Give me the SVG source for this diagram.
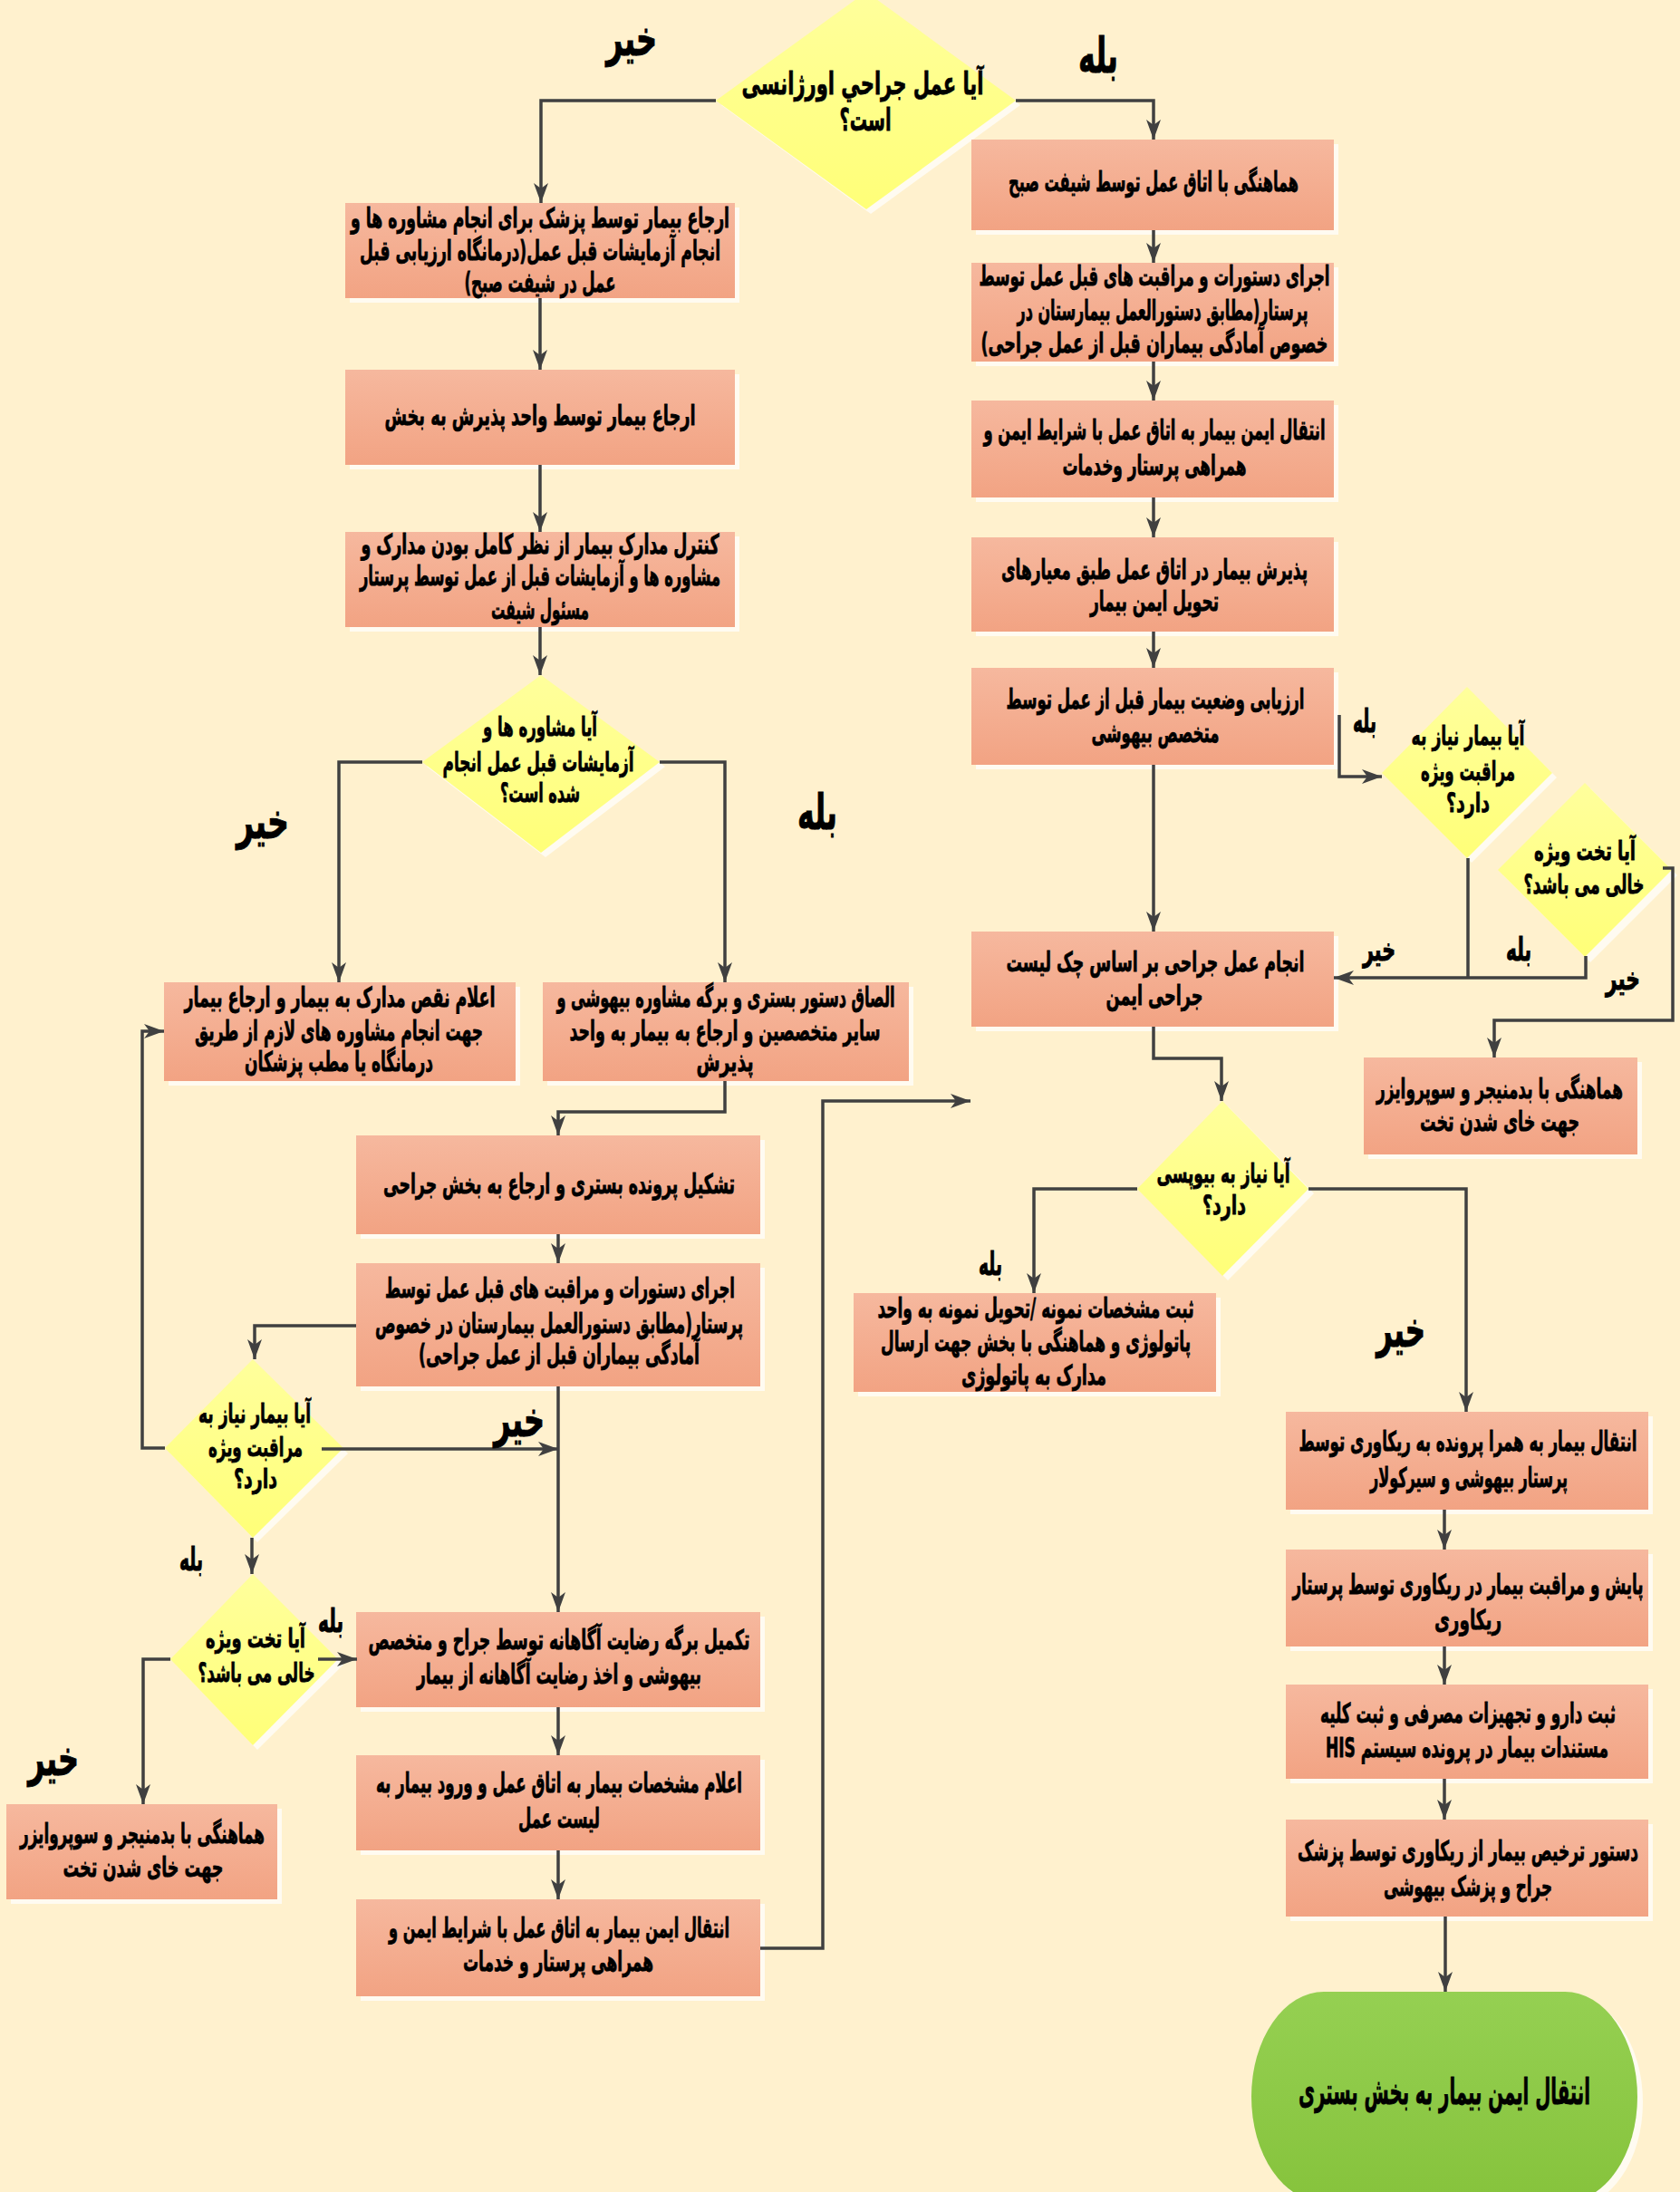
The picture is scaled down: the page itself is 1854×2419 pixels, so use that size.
<svg xmlns="http://www.w3.org/2000/svg" width="1854" height="2419" viewBox="0 0 1854 2419">
<style>
  .bg { fill: #FFF1CE; }
  .sh { fill: #FFFBF1; }
  .box { fill: url(#gBox); }
  .dia { fill: url(#gDia); }
  .term { fill: url(#gTerm); }
  .t { font-family: "DejaVu Sans", sans-serif; font-weight: bold; font-size: 30px; fill: #000; stroke: #000; stroke-width: 0.8px; text-anchor: middle; direction: rtl; }
  .q { font-size: 29px; }
  .big { font-size: 34px; }
  .lbl { font-family: "DejaVu Sans", sans-serif; font-weight: bold; fill: #000; stroke: #000; stroke-width: 1px; text-anchor: middle; direction: rtl; }
  .lg { font-size: 54px; }
  .sm { font-size: 35px; }
  .conn path { fill: none; stroke: #404040; stroke-width: 3.5; stroke-linejoin: miter; }
  .conn path.a { marker-end: url(#ah); }
</style>
<defs>
  <linearGradient id="gBox" x1="0" y1="0" x2="0" y2="1">
    <stop offset="0" stop-color="#F6B89E"/>
    <stop offset="1" stop-color="#F2A383"/>
  </linearGradient>
  <linearGradient id="gDia" x1="0" y1="0" x2="0" y2="1">
    <stop offset="0" stop-color="#FFFF9C"/>
    <stop offset="1" stop-color="#FFFF78"/>
  </linearGradient>
  <linearGradient id="gTerm" x1="0" y1="0" x2="0" y2="1">
    <stop offset="0" stop-color="#95D052"/>
    <stop offset="1" stop-color="#86C33C"/>
  </linearGradient>
  <marker id="ah" markerUnits="userSpaceOnUse" markerWidth="24" markerHeight="16" refX="22" refY="8" orient="auto">
    <path d="M0,0 L22,8 L0,16 L6,8 z" fill="#404040"/>
  </marker>
</defs>

<rect class="bg" x="0" y="0" width="1854" height="2419"/>

<!-- decision: urgent surgery -->
<g id="d-urgent">
  <polygon class="sh" points="961,-4 1126,116 961,236 796,116"/>
  <polygon class="dia" points="956,-9 1121,111 956,231 790,111"/>
  <text class="t big" x="952" y="104" textLength="267" lengthAdjust="spacingAndGlyphs">آیا عمل جراحي اورژانسی</text>
  <text class="t big" x="955" y="144" textLength="57" lengthAdjust="spacingAndGlyphs">است؟</text>
</g>

<!-- left column -->
<g id="n-refer-clinic">
  <rect class="sh" x="386" y="229" width="430" height="105"/>
  <rect class="box" x="381" y="224" width="430" height="105"/>
  <text class="t" x="596" y="251" textLength="418" lengthAdjust="spacingAndGlyphs">ارجاع  بیمار توسط پزشک برای انجام  مشاوره ها و</text>
  <text class="t" x="596" y="287" textLength="398" lengthAdjust="spacingAndGlyphs">انجام آزمایشات قبل عمل(درمانگاه ارزیابی قبل</text>
  <text class="t" x="596" y="322" textLength="167" lengthAdjust="spacingAndGlyphs">عمل در شیفت صبح)</text>
</g>
<g id="n-refer-ward">
  <rect class="sh" x="386" y="413" width="430" height="105"/>
  <rect class="box" x="381" y="408" width="430" height="105"/>
  <text class="t" x="596" y="469" textLength="343" lengthAdjust="spacingAndGlyphs">ارجاع  بیمار توسط واحد پذیرش به بخش</text>
</g>
<g id="n-check-docs">
  <rect class="sh" x="386" y="592" width="430" height="105"/>
  <rect class="box" x="381" y="587" width="430" height="105"/>
  <text class="t" x="596" y="611" textLength="395" lengthAdjust="spacingAndGlyphs">کنترل مدارک بیمار از نظر کامل بودن مدارک و</text>
  <text class="t" x="596" y="646" textLength="398" lengthAdjust="spacingAndGlyphs">مشاوره ها و آزمایشات قبل از عمل توسط پرستار</text>
  <text class="t" x="596" y="683" textLength="108" lengthAdjust="spacingAndGlyphs">مسئول شیفت</text>
</g>
<g id="d-consults">
  <polygon class="sh" points="602,750 734,846 602,946 471,846"/>
  <polygon class="dia" points="597,745 728,841 597,941 466,841"/>
  <text class="t q" x="596" y="812" textLength="126" lengthAdjust="spacingAndGlyphs">آیا مشاوره ها و</text>
  <text class="t q" x="594" y="851" textLength="211" lengthAdjust="spacingAndGlyphs">آزمایشات قبل عمل انجام</text>
  <text class="t q" x="596" y="885" textLength="88" lengthAdjust="spacingAndGlyphs">شده است؟</text>
</g>
<g id="n-missing-docs">
  <rect class="sh" x="186" y="1089" width="388" height="109"/>
  <rect class="box" x="181" y="1084" width="388" height="109"/>
  <text class="t" x="375" y="1111" textLength="343" lengthAdjust="spacingAndGlyphs">اعلام نقص مدارک به بیمار و ارجاع بیمار</text>
  <text class="t" x="374" y="1148" textLength="318" lengthAdjust="spacingAndGlyphs">جهت انجام مشاوره های لازم از طریق</text>
  <text class="t" x="374" y="1182" textLength="208" lengthAdjust="spacingAndGlyphs">درمانگاه یا مطب پزشکان</text>
</g>
<g id="n-attach-orders">
  <rect class="sh" x="604" y="1089" width="404" height="109"/>
  <rect class="box" x="599" y="1084" width="404" height="109"/>
  <text class="t" x="801" y="1111" textLength="373" lengthAdjust="spacingAndGlyphs">الصاق دستور بستری و برگه مشاوره بیهوشی و</text>
  <text class="t" x="800" y="1148" textLength="343" lengthAdjust="spacingAndGlyphs">سایر متخصصین و ارجاع  به بیمار به واحد</text>
  <text class="t" x="800" y="1182" textLength="63" lengthAdjust="spacingAndGlyphs">پذیرش</text>
</g>
<g id="n-open-file">
  <rect class="sh" x="398" y="1258" width="446" height="109"/>
  <rect class="box" x="393" y="1253" width="446" height="109"/>
  <text class="t" x="617" y="1317" textLength="388" lengthAdjust="spacingAndGlyphs">تشکیل پرونده بستری و ارجاع به بخش جراحی</text>
</g>
<g id="n-preop-orders-l">
  <rect class="sh" x="398" y="1399" width="446" height="136"/>
  <rect class="box" x="393" y="1394" width="446" height="136"/>
  <text class="t" x="618" y="1432" textLength="386" lengthAdjust="spacingAndGlyphs">اجرای دستورات و مراقبت های قبل عمل توسط</text>
  <text class="t" x="617" y="1471" textLength="406" lengthAdjust="spacingAndGlyphs">پرستار(مطابق دستورالعمل بیمارستان در خصوص</text>
  <text class="t" x="617" y="1505" textLength="310" lengthAdjust="spacingAndGlyphs">آمادگی بیماران قبل از عمل جراحی)</text>
</g>
<g id="d-icu-l">
  <polygon class="sh" points="284,1506 384,1604 284,1702 188,1604"/>
  <polygon class="dia" points="279,1500 379,1598 279,1697 182,1598"/>
  <text class="t q" x="281" y="1570" textLength="124" lengthAdjust="spacingAndGlyphs">آیا بیمار نیاز به</text>
  <text class="t q" x="282" y="1607" textLength="104" lengthAdjust="spacingAndGlyphs">مراقبت ویژه</text>
  <text class="t q" x="282" y="1642" textLength="48" lengthAdjust="spacingAndGlyphs">دارد؟</text>
</g>
<g id="d-bed-l">
  <polygon class="sh" points="284,1743 379,1837 284,1931 194,1837"/>
  <polygon class="dia" points="279,1737 373,1831 279,1926 188,1831"/>
  <text class="t q" x="282" y="1818" textLength="110" lengthAdjust="spacingAndGlyphs">آیا تخت ویژه</text>
  <text class="t q" x="283" y="1856" textLength="129" lengthAdjust="spacingAndGlyphs">خالی می باشد؟</text>
</g>
<g id="n-bed-manager-l">
  <rect class="sh" x="12" y="1996" width="299" height="105"/>
  <rect class="box" x="7" y="1991" width="299" height="105"/>
  <text class="t" x="157" y="2034" textLength="270" lengthAdjust="spacingAndGlyphs">هماهنگی با بدمنیجر و سوپروایزر</text>
  <text class="t" x="158" y="2071" textLength="177" lengthAdjust="spacingAndGlyphs">جهت خای شدن تخت</text>
</g>
<g id="n-consent">
  <rect class="sh" x="398" y="1784" width="446" height="105"/>
  <rect class="box" x="393" y="1779" width="446" height="105"/>
  <text class="t" x="617" y="1820" textLength="421" lengthAdjust="spacingAndGlyphs">تکمیل برگه رضایت آگاهانه توسط جراح و متخصص</text>
  <text class="t" x="617" y="1858" textLength="314" lengthAdjust="spacingAndGlyphs">بیهوشی و اخذ رضایت آگاهانه از بیمار</text>
</g>
<g id="n-announce">
  <rect class="sh" x="398" y="1942" width="446" height="105"/>
  <rect class="box" x="393" y="1937" width="446" height="105"/>
  <text class="t" x="617" y="1978" textLength="404" lengthAdjust="spacingAndGlyphs">اعلام مشخصات بیمار به اتاق عمل و ورود بیمار به</text>
  <text class="t" x="617" y="2017" textLength="90" lengthAdjust="spacingAndGlyphs">لیست عمل</text>
</g>
<g id="n-transfer-or-l">
  <rect class="sh" x="398" y="2101" width="446" height="107"/>
  <rect class="box" x="393" y="2096" width="446" height="107"/>
  <text class="t" x="617" y="2138" textLength="376" lengthAdjust="spacingAndGlyphs">انتقال ایمن بیمار به اتاق عمل با شرایط ایمن و</text>
  <text class="t" x="616" y="2175" textLength="210" lengthAdjust="spacingAndGlyphs">همراهی پرستار و خدمات</text>
</g>

<!-- right column -->
<g id="n-coord-or">
  <rect class="sh" x="1077" y="159" width="400" height="100"/>
  <rect class="box" x="1072" y="154" width="400" height="100"/>
  <text class="t" x="1273" y="211" textLength="320" lengthAdjust="spacingAndGlyphs">هماهنگی با اتاق عمل توسط شیفت صبح</text>
</g>
<g id="n-preop-orders-r">
  <rect class="sh" x="1077" y="295" width="400" height="109"/>
  <rect class="box" x="1072" y="290" width="400" height="109"/>
  <text class="t" x="1274" y="315" textLength="387" lengthAdjust="spacingAndGlyphs">اجرای دستورات و مراقبت های قبل عمل توسط</text>
  <text class="t" x="1283" y="353" textLength="321" lengthAdjust="spacingAndGlyphs">پرستار(مطابق دستورالعمل بیمارستان در</text>
  <text class="t" x="1274" y="389" textLength="383" lengthAdjust="spacingAndGlyphs">خصوص آمادگی بیماران قبل از عمل جراحی)</text>
</g>
<g id="n-transfer-or-r">
  <rect class="sh" x="1077" y="447" width="400" height="107"/>
  <rect class="box" x="1072" y="442" width="400" height="107"/>
  <text class="t" x="1274" y="485" textLength="377" lengthAdjust="spacingAndGlyphs">انتقال ایمن بیمار به اتاق عمل با شرایط ایمن و</text>
  <text class="t" x="1274" y="524" textLength="203" lengthAdjust="spacingAndGlyphs">همراهی پرستار وخدمات</text>
</g>
<g id="n-or-admit">
  <rect class="sh" x="1077" y="598" width="400" height="104"/>
  <rect class="box" x="1072" y="593" width="400" height="104"/>
  <text class="t" x="1274" y="639" textLength="338" lengthAdjust="spacingAndGlyphs">پذیرش بیمار در اتاق عمل طبق معیارهای</text>
  <text class="t" x="1274" y="674" textLength="142" lengthAdjust="spacingAndGlyphs">تحویل ایمن بیمار</text>
</g>
<g id="n-anesth-eval">
  <rect class="sh" x="1077" y="742" width="400" height="107"/>
  <rect class="box" x="1072" y="737" width="400" height="107"/>
  <text class="t" x="1275" y="782" textLength="329" lengthAdjust="spacingAndGlyphs">ارزیابی وضعیت بیمار قبل از عمل توسط</text>
  <text class="t" x="1275" y="819" textLength="141" lengthAdjust="spacingAndGlyphs">متخصص بیهوشی</text>
</g>
<g id="d-icu-r">
  <polygon class="sh" points="1624,764 1718,858 1624,952 1531,858"/>
  <polygon class="dia" points="1619,758 1713,853 1619,947 1525,853"/>
  <text class="t q" x="1620" y="822" textLength="125" lengthAdjust="spacingAndGlyphs">آیا بیمار نیاز به</text>
  <text class="t q" x="1620" y="861" textLength="104" lengthAdjust="spacingAndGlyphs">مراقبت ویژه</text>
  <text class="t q" x="1620" y="896" textLength="48" lengthAdjust="spacingAndGlyphs">دارد؟</text>
</g>
<g id="d-bed-r">
  <polygon class="sh" points="1755,870 1851,966 1755,1062 1659,966"/>
  <polygon class="dia" points="1749,864 1845,960 1749,1056 1653,960"/>
  <text class="t q" x="1749" y="949" textLength="112" lengthAdjust="spacingAndGlyphs">آیا تخت ویژه</text>
  <text class="t q" x="1748" y="986" textLength="133" lengthAdjust="spacingAndGlyphs">خالی می باشد؟</text>
</g>
<g id="n-surgery">
  <rect class="sh" x="1077" y="1033" width="400" height="105"/>
  <rect class="box" x="1072" y="1028" width="400" height="105"/>
  <text class="t" x="1275" y="1072" textLength="329" lengthAdjust="spacingAndGlyphs">انجام عمل جراحی بر اساس چک لیست</text>
  <text class="t" x="1274" y="1109" textLength="107" lengthAdjust="spacingAndGlyphs">جراحی ایمن</text>
</g>
<g id="n-bed-manager-r">
  <rect class="sh" x="1510" y="1172" width="302" height="107"/>
  <rect class="box" x="1505" y="1167" width="302" height="107"/>
  <text class="t" x="1655" y="1212" textLength="272" lengthAdjust="spacingAndGlyphs">هماهنگی با بدمنیجر و سوپروایزر</text>
  <text class="t" x="1655" y="1248" textLength="176" lengthAdjust="spacingAndGlyphs">جهت خای شدن تخت</text>
</g>
<g id="d-biopsy">
  <polygon class="sh" points="1355,1221 1450,1317 1355,1413 1261,1317"/>
  <polygon class="dia" points="1349,1215 1444,1312 1349,1408 1255,1312"/>
  <text class="t q" x="1350" y="1305" textLength="147" lengthAdjust="spacingAndGlyphs">آیا نیاز به بیوپسی</text>
  <text class="t q" x="1351" y="1340" textLength="48" lengthAdjust="spacingAndGlyphs">دارد؟</text>
</g>
<g id="n-pathology">
  <rect class="sh" x="947" y="1432" width="400" height="109"/>
  <rect class="box" x="942" y="1427" width="400" height="109"/>
  <text class="t" x="1143" y="1454" textLength="349" lengthAdjust="spacingAndGlyphs">ثبت مشخصات نمونه /تحویل نمونه به واحد</text>
  <text class="t" x="1143" y="1491" textLength="342" lengthAdjust="spacingAndGlyphs">پاتولوژی و هماهنگی با بخش جهت ارسال</text>
  <text class="t" x="1141" y="1528" textLength="160" lengthAdjust="spacingAndGlyphs">مدارک به پاتولوژی</text>
</g>
<g id="n-to-recovery">
  <rect class="sh" x="1424" y="1563" width="400" height="108"/>
  <rect class="box" x="1419" y="1558" width="400" height="108"/>
  <text class="t" x="1620" y="1601" textLength="373" lengthAdjust="spacingAndGlyphs">انتقال بیمار به همرا پرونده به ریکاوری توسط</text>
  <text class="t" x="1621" y="1641" textLength="218" lengthAdjust="spacingAndGlyphs">پرستار بیهوشی و سیرکولار</text>
</g>
<g id="n-monitor">
  <rect class="sh" x="1424" y="1715" width="400" height="107"/>
  <rect class="box" x="1419" y="1710" width="400" height="107"/>
  <text class="t" x="1620" y="1759" textLength="387" lengthAdjust="spacingAndGlyphs">پایش و مراقبت بیمار در ریکاوری توسط پرستار</text>
  <text class="t" x="1620" y="1798" textLength="74" lengthAdjust="spacingAndGlyphs">ریکاوری</text>
</g>
<g id="n-record">
  <rect class="sh" x="1424" y="1864" width="400" height="104"/>
  <rect class="box" x="1419" y="1859" width="400" height="104"/>
  <text class="t" x="1620" y="1901" textLength="326" lengthAdjust="spacingAndGlyphs">ثبت دارو و تجهیزات مصرفی و ثبت کلیه</text>
  <text class="t" x="1619" y="1939" textLength="312" lengthAdjust="spacingAndGlyphs">مستندات بیمار در پرونده سیستم HIS</text>
</g>
<g id="n-discharge">
  <rect class="sh" x="1424" y="2013" width="400" height="107"/>
  <rect class="box" x="1419" y="2008" width="400" height="107"/>
  <text class="t" x="1620" y="2053" textLength="376" lengthAdjust="spacingAndGlyphs">دستور ترخیص بیمار از ریکاوری توسط پزشک</text>
  <text class="t" x="1620" y="2092" textLength="186" lengthAdjust="spacingAndGlyphs">جراح و پزشک بیهوشی</text>
</g>
<g id="n-end">
  <rect class="sh" x="1387" y="2204" width="426" height="232" rx="80" ry="116"/>
  <rect class="term" x="1381" y="2198" width="426" height="232" rx="80" ry="116"/>
  <text class="t big" x="1594" y="2322" style="font-size:40px" textLength="322" lengthAdjust="spacingAndGlyphs">انتقال ایمن بیمار به بخش بستری</text>
</g>

<!-- connectors -->
<g id="connectors" class="conn">
  <path class="a" d="M790,111 H597 V224"/>
  <path class="a" d="M1121,111 H1273 V154"/>
  <path class="a" d="M596,329 V408"/>
  <path class="a" d="M596,513 V587"/>
  <path class="a" d="M596,692 V745"/>
  <path class="a" d="M466,841 H374 V1084"/>
  <path class="a" d="M728,841 H800 V1084"/>
  <path class="a" d="M800,1193 V1227 H616 V1253"/>
  <path class="a" d="M616,1362 V1394"/>
  <path class="a" d="M393,1463 H281 V1500"/>
  <path class="a" d="M182,1598 H157 V1138 H181"/>
  <path class="a" d="M355,1599 H616"/>
  <path class="a" d="M616,1530 V1779"/>
  <path class="a" d="M278,1697 V1737"/>
  <path class="a" d="M351,1831 H394"/>
  <path class="a" d="M188,1831 H158 V1991"/>
  <path class="a" d="M616,1884 V1937"/>
  <path class="a" d="M616,2042 V2096"/>
  <path class="a" d="M839,2150 H908 V1215 H1071"/>
  <path class="a" d="M1273,254 V290"/>
  <path class="a" d="M1273,399 V442"/>
  <path class="a" d="M1273,549 V593"/>
  <path class="a" d="M1273,697 V737"/>
  <path class="a" d="M1273,844 V1028"/>
  <path class="a" d="M1478,789 V857 H1525"/>
  <path d="M1620,947 V1079"/>
  <path class="a" d="M1750,1055 V1079 H1472"/>
  <path class="a" d="M1835,958 H1846 V1126 H1649 V1167"/>
  <path class="a" d="M1273,1133 V1168 H1348 V1215"/>
  <path class="a" d="M1255,1312 H1141 V1427"/>
  <path class="a" d="M1444,1312 H1618 V1558"/>
  <path class="a" d="M1594,1666 V1710"/>
  <path class="a" d="M1594,1817 V1859"/>
  <path class="a" d="M1594,1963 V2008"/>
  <path class="a" d="M1595,2115 V2198"/>
</g>

<!-- branch labels -->
<g id="labels">
  <text class="lbl lg" x="697" y="61" textLength="56" lengthAdjust="spacingAndGlyphs">خیر</text>
  <text class="lbl lg" x="1212" y="80" textLength="44" lengthAdjust="spacingAndGlyphs">بله</text>
  <text class="lbl lg" x="290" y="925" textLength="58" lengthAdjust="spacingAndGlyphs">خیر</text>
  <text class="lbl lg" x="902" y="915" textLength="44" lengthAdjust="spacingAndGlyphs">بله</text>
  <text class="lbl lg" x="573" y="1585" textLength="56" lengthAdjust="spacingAndGlyphs">خیر</text>
  <text class="lbl sm" x="211" y="1733" textLength="26" lengthAdjust="spacingAndGlyphs">بله</text>
  <text class="lbl sm" x="365" y="1801" textLength="28" lengthAdjust="spacingAndGlyphs">بله</text>
  <text class="lbl lg" x="59" y="1959" textLength="56" lengthAdjust="spacingAndGlyphs">خیر</text>
  <text class="lbl sm" x="1506" y="808" textLength="26" lengthAdjust="spacingAndGlyphs">بله</text>
  <text class="lbl sm" x="1522" y="1060" textLength="36" lengthAdjust="spacingAndGlyphs">خیر</text>
  <text class="lbl sm" x="1676" y="1060" textLength="28" lengthAdjust="spacingAndGlyphs">بله</text>
  <text class="lbl sm" x="1791" y="1092" textLength="38" lengthAdjust="spacingAndGlyphs">خیر</text>
  <text class="lbl sm" x="1093" y="1407" textLength="26" lengthAdjust="spacingAndGlyphs">بله</text>
  <text class="lbl lg" x="1546" y="1486" textLength="54" lengthAdjust="spacingAndGlyphs">خیر</text>
</g>
</svg>
